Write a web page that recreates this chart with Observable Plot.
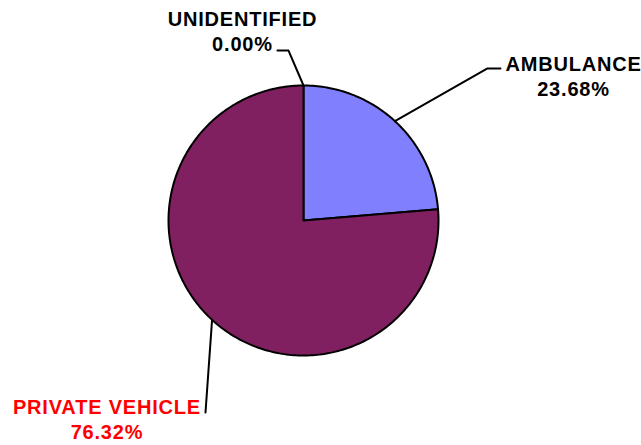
<!DOCTYPE html>
<html>
<head>
<meta charset="utf-8">
<script src="https://cdn.jsdelivr.net/npm/d3@7"></script>
<script src="https://cdn.jsdelivr.net/npm/@observablehq/plot@0.6"></script>
<style>
  html, body { margin: 0; padding: 0; background: #fff; }
</style>
</head>
<body>
<div id="chart"></div>
<script>
// ---- data ----
const categories = ["AMBULANCE", "PRIVATE VEHICLE", "UNIDENTIFIED"];
const counts = [9, 29, 0];
const sliceColors = ["#8080FF", "#802060", "#FFFFC0"];
const labelColors = ["#000000", "#FF0000", "#000000"];

// ---- layout (unit-circle coordinates, radius = 1) ----
const labelPos = [
  {u: 2.0, v: 1.074},     // AMBULANCE
  {u: -1.456, v: -1.47},  // PRIVATE VEHICLE
  {u: -0.452, v: 1.404}   // UNIDENTIFIED
];
const leaderPath = [
  [{u: 1.363, v: 1.126}, {u: 1.459, v: 1.126}],
  [{u: -0.726, v: -1.422}],
  [{u: -0.111, v: 1.259}, {u: -0.193, v: 1.259}]
];

const total = d3.sum(counts);
const rows = categories.map((c, i) => ({cat: c, count: counts[i], i}));
const arcs = d3.pie().sort(null).value(d => d.count).startAngle(0).endAngle(2 * Math.PI)(rows);

const pt = (a, r = 1) => ({u: r * Math.sin(a), v: r * Math.cos(a)});

const marks = [];
arcs.forEach(a => {
  if (a.endAngle - a.startAngle <= 0) return;
  const n = Math.max(2, Math.ceil((a.endAngle - a.startAngle) / (Math.PI / 180)));
  const pts = [{u: 0, v: 0}];
  for (let k = 0; k <= n; k++) pts.push(pt(a.startAngle + (a.endAngle - a.startAngle) * k / n));
  pts.push({u: 0, v: 0});
  marks.push(Plot.line(pts, {x: "u", y: "v", fill: sliceColors[a.data.i], stroke: "#000", strokeWidth: 2, curve: "linear", strokeLinejoin: "miter"}));
});

arcs.forEach(a => {
  const mid = (a.startAngle + a.endAngle) / 2;
  const pts = [pt(mid), ...leaderPath[a.data.i]];
  marks.push(Plot.line(pts, {x: "u", y: "v", stroke: "#000", strokeWidth: 2, curve: "linear"}));
});

const labels = rows.map(r => ({
  u: labelPos[r.i].u, v: labelPos[r.i].v,
  text: r.cat + "\n" + (r.count / total * 100).toFixed(2) + "%",
  color: labelColors[r.i]
}));
marks.push(Plot.text(labels, {
  x: "u", y: "v", text: "text", fill: d => d.color,
  fontSize: 20, fontWeight: "bold", lineHeight: 1.25, textAnchor: "middle", lineAnchor: "middle"
}));

const chart = Plot.plot({
  width: 641,
  height: 445,
  margin: 0,
  x: {domain: [-1, 1], range: [168, 438], axis: null},
  y: {domain: [-1, 1], range: [355, 85], axis: null},
  style: {fontFamily: "'Liberation Sans', Arial, sans-serif", background: "#fff", letterSpacing: "0.8px"},
  marks
});
document.getElementById("chart").appendChild(chart);
</script>
</body>
</html>
